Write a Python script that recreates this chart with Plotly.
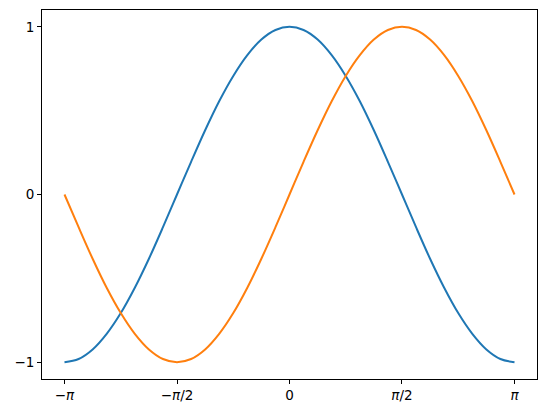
import plotly.graph_objects as go

# sample positions (radians), read every pi/16 across the plot
xVals = [-3.142, -2.945, -2.749, -2.553, -2.356, -2.160, -1.963, -1.767, -1.571,
         -1.374, -1.178, -0.982, -0.785, -0.589, -0.393, -0.196, 0.0,
         0.196, 0.393, 0.589, 0.785, 0.982, 1.178, 1.374, 1.571,
         1.767, 1.963, 2.160, 2.356, 2.553, 2.749, 2.945, 3.142]
# blue curve
blueVals = [-1.0, -0.981, -0.924, -0.831, -0.707, -0.556, -0.383, -0.195, 0.0,
            0.195, 0.383, 0.556, 0.707, 0.831, 0.924, 0.981, 1.0,
            0.981, 0.924, 0.831, 0.707, 0.556, 0.383, 0.195, 0.0,
            -0.195, -0.383, -0.556, -0.707, -0.831, -0.924, -0.981, -1.0]
# orange curve
orangeVals = [0.0, -0.195, -0.383, -0.556, -0.707, -0.831, -0.924, -0.981, -1.0,
              -0.981, -0.924, -0.831, -0.707, -0.556, -0.383, -0.195, 0.0,
              0.195, 0.383, 0.556, 0.707, 0.831, 0.924, 0.981, 1.0,
              0.981, 0.924, 0.831, 0.707, 0.556, 0.383, 0.195, 0.0]

xTickVals = [-3.14159, -1.5708, 0, 1.5708, 3.14159]
xTickText = ['\u2212<i>\u03c0</i>', '\u2212<i>\u03c0</i>/2', '0', '<i>\u03c0</i>/2', '<i>\u03c0</i>']
yTickVals = [-1, 0, 1]
yTickText = ['\u22121', '0', '1']

fig = go.Figure()
fig.add_trace(go.Scatter(x=xVals, y=blueVals, mode='lines',
                         line=dict(color='#1f77b4', width=2, shape='spline')))
fig.add_trace(go.Scatter(x=xVals, y=orangeVals, mode='lines',
                         line=dict(color='#ff7f0e', width=2, shape='spline')))

axisStyle = dict(showgrid=False, zeroline=False, showline=True, mirror=True,
                 linecolor='black', linewidth=1, ticks='outside', ticklen=4,
                 tickcolor='black', tickwidth=1, automargin=False,
                 tickfont=dict(family='DejaVu Sans', size=13.5, color='black'))

fig.update_layout(
    width=546, height=413,
    margin=dict(l=42, r=9, t=10, b=34),
    paper_bgcolor='white', plot_bgcolor='white',
    showlegend=False,
    xaxis=dict(range=[-3.456, 3.456], tickvals=xTickVals, ticktext=xTickText, **axisStyle),
    yaxis=dict(range=[-1.1, 1.1], tickvals=yTickVals, ticktext=yTickText, **axisStyle),
)

# drop the default page margin so the figure sits at the window corner
fig.write_html("out.html", config={'displayModeBar': False},
               post_script="document.body.style.margin='0';")
